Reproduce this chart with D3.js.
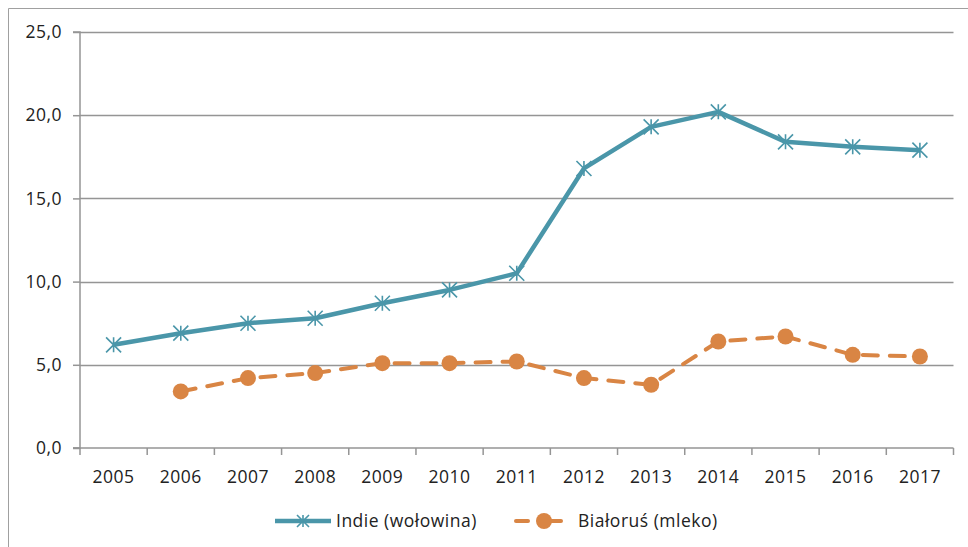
<!DOCTYPE html>
<html><head><meta charset="utf-8">
<script src="https://cdn.jsdelivr.net/npm/d3@7"></script>
<style>
html,body{margin:0;padding:0;background:#fff;}
svg{display:block;font-family:"Open Sans",sans-serif;}
svg text{font-size:17.5px;letter-spacing:0.5px;}
</style></head>
<body>
<svg id="chart" width="968" height="547"></svg>
<script>
const years = ["2005","2006","2007","2008","2009","2010","2011","2012","2013","2014","2015","2016","2017"];
const indie = [6.2, 6.9, 7.5, 7.8, 8.7, 9.5, 10.5, 16.8, 19.3, 20.2, 18.4, 18.1, 17.9];
const bialorus = [null, 3.4, 4.2, 4.5, 5.1, 5.1, 5.2, 4.2, 3.8, 6.4, 6.7, 5.6, 5.5];
const yTicks = [0, 5, 10, 15, 20, 25];
const seriesNames = ["Indie (wołowina)", "Białoruś (mleko)"];

const svg = d3.select("#chart");
const W = 968, H = 547;
const m = {left: 80, right: 14.5, top: 32, bottom: 99};
const teal = "#4a96a9", orange = "#d98544", grid = "#959595", txt = "#222";

// outer border
svg.append("path").attr("d", `M8.5,${H} V8.5 H${W}`).attr("fill","none").attr("stroke","#a0a0a0").attr("stroke-width",1);

const x = d3.scaleBand().domain(years).range([m.left, W - m.right]);
const y = d3.scaleLinear().domain([0, 25]).range([H - m.bottom, m.top]);

// gridlines
svg.append("g").selectAll("line").data(yTicks.filter(d => d > 0)).join("line")
  .attr("x1", m.left).attr("x2", W - m.right)
  .attr("y1", d => Math.round(y(d)) + 0.5).attr("y2", d => Math.round(y(d)) + 0.5)
  .attr("stroke", grid).attr("stroke-width", 1.5);

// y axis
const yAxis = d3.axisLeft(y).tickValues(yTicks).tickSize(7).tickPadding(11)
  .tickFormat(d => d3.format(".1f")(d).replace(".", ","));
const gy = svg.append("g").attr("transform", `translate(${m.left},0)`).call(yAxis);
gy.select(".domain").attr("stroke", grid).attr("stroke-width", 1.5).attr("d", `M-7,${y(25)}H0V${y(0)}H-7`);
gy.selectAll(".tick line").attr("stroke", grid).attr("stroke-width", 1.5);
gy.selectAll(".tick text").attr("fill", txt).style("font-size", "17.5px").style("font-family", '"Open Sans",sans-serif');

// x axis
const gx = svg.append("g").attr("transform", `translate(0,${y(0)})`);
gx.append("line").attr("x1", m.left - 7).attr("x2", W - m.right).attr("y1", 0).attr("y2", 0)
  .attr("stroke", grid).attr("stroke-width", 1.5);
const bounds = years.map(d => x(d)).concat([x(years[years.length-1]) + x.bandwidth()]);
gx.selectAll("line.tk").data(bounds).join("line").attr("class","tk")
  .attr("x1", d => d).attr("x2", d => d).attr("y1", 0).attr("y2", 7)
  .attr("stroke", grid).attr("stroke-width", 1.5);
gx.selectAll("text").data(years).join("text")
  .attr("x", d => x(d) + x.bandwidth()/2).attr("y", 35)
  .attr("text-anchor", "middle").attr("fill", txt).text(d => d);

const cx = d => x(d) + x.bandwidth()/2;

// Indie line
const line = d3.line().defined(d => d[1] != null).x(d => cx(d[0])).y(d => y(d[1]));
svg.append("path").datum(years.map((yr,i) => [yr, indie[i]]))
  .attr("d", line).attr("fill","none").attr("stroke", teal).attr("stroke-width", 4.5).attr("stroke-linejoin","round");

function star(g, px, py, s) {
  const r = s;
  g.append("path").attr("d",
    `M${px},${py-r}V${py+r}M${px-r},${py-r}L${px+r},${py+r}M${px+r},${py-r}L${px-r},${py+r}`)
    .attr("stroke", teal).attr("stroke-width", 1.6).attr("fill","none");
}
const gs = svg.append("g");
years.forEach((yr,i) => { if (indie[i] != null) star(gs, cx(yr), y(indie[i]), 7.5); });

// Bialorus line
svg.append("path").datum(years.map((yr,i) => [yr, bialorus[i]]))
  .attr("d", line).attr("fill","none").attr("stroke", orange).attr("stroke-width", 4)
  .attr("stroke-dasharray", "15,12").attr("stroke-linecap","round");
svg.append("g").selectAll("circle").data(years.map((yr,i) => [yr, bialorus[i]]).filter(d => d[1] != null))
  .join("circle").attr("cx", d => cx(d[0])).attr("cy", d => y(d[1])).attr("r", 8).attr("fill", orange);

// legend
const lg = svg.append("g");
const ly = 521;
lg.append("line").attr("x1", 275).attr("x2", 331).attr("y1", ly).attr("y2", ly).attr("stroke", teal).attr("stroke-width", 4.5);
star(lg, 303, ly, 6);
lg.append("text").attr("x", 336).attr("y", ly + 6).attr("fill", txt).text(seriesNames[0]);
lg.append("line").attr("x1", 516).attr("x2", 528).attr("y1", ly).attr("y2", ly).attr("stroke", orange).attr("stroke-width", 4).attr("stroke-linecap","round");
lg.append("line").attr("x1", 550).attr("x2", 561).attr("y1", ly).attr("y2", ly).attr("stroke", orange).attr("stroke-width", 4).attr("stroke-linecap","round");
lg.append("circle").attr("cx", 544).attr("cy", ly).attr("r", 8).attr("fill", orange);
lg.append("text").attr("x", 578).attr("y", ly + 6).attr("fill", txt).text(seriesNames[1]);
</script>
</body></html>
